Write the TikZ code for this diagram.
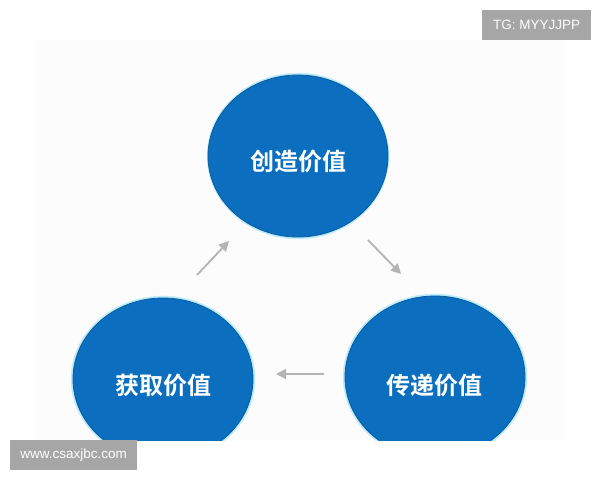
\documentclass[tikz,border=0pt]{standalone}
\usepackage{fontspec}
\newfontfamily\cjk{Noto Sans CJK SC Bold}
\setsansfont{Liberation Sans}
\usetikzlibrary{arrows.meta,shapes.geometric}
\definecolor{cblue}{HTML}{0B6EBF}
\definecolor{cedge}{HTML}{0A5C9E}
\definecolor{chalo}{HTML}{BDEBF7}
\definecolor{arrowgray}{HTML}{B4B4B4}
\definecolor{wmgray}{HTML}{A6A6A6}
\definecolor{panel}{HTML}{FCFCFC}
\tikzset{
  valuecircle/.style={ellipse, minimum width=180pt, minimum height=162pt, fill=cblue, draw=cedge, line width=0.8pt, inner sep=0pt},
  halo/.style={draw=chalo, line width=2.4pt},
  ctext/.style={text=white, font=\cjk\fontsize{24}{24}\selectfont},
  flowarrow/.style={draw=arrowgray, line width=1.8pt, -{Triangle[length=10pt,width=10pt]}},
  wmbox/.style={fill=wmgray, text=white, font=\sffamily\fontsize{13.5}{13.5}\selectfont, inner sep=0pt, anchor=north west}
}
\begin{document}
\begin{tikzpicture}[x=1pt,y=-1pt]
\useasboundingbox (0,0) rectangle (600,480);
\fill[white] (0,0) rectangle (600,480);
\fill[panel] (38,40) rectangle (562,440);
\begin{scope}
\clip (38,40) rectangle (562,440);
\draw[halo] (298,156) ellipse [x radius=90, y radius=82];
\draw[halo] (163,379) ellipse [x radius=91, y radius=82];
\draw[halo] (435,377) ellipse [x radius=91, y radius=82];
\node[valuecircle] (create) at (298,156) {};
\node[valuecircle] (capture) at (163,379) {};
\node[valuecircle] (deliver) at (435,377) {};
\end{scope}
\node[ctext] (tcreate) at (298,161) {创造价值};
\node[ctext] (tcapture) at (163,385) {获取价值};
\node[ctext] (tdeliver) at (434,385) {传递价值};
\coordinate (a1s) at (197,275);
\coordinate (a1e) at (229,241);
\coordinate (a2s) at (368,240);
\coordinate (a2e) at (401,274);
\coordinate (a3s) at (324,374);
\coordinate (a3e) at (276,374);
\draw[flowarrow] (a1s) -- (a1e);
\draw[flowarrow] (a2s) -- (a2e);
\draw[flowarrow] (a3s) -- (a3e);
\node[wmbox, minimum width=109pt, minimum height=30pt] (tg) at (482,10) {TG: MYYJJPP};
\node[wmbox, minimum width=127pt, minimum height=30pt] (www) at (10,440) {www.csaxjbc.com};
\end{tikzpicture}
\end{document}
